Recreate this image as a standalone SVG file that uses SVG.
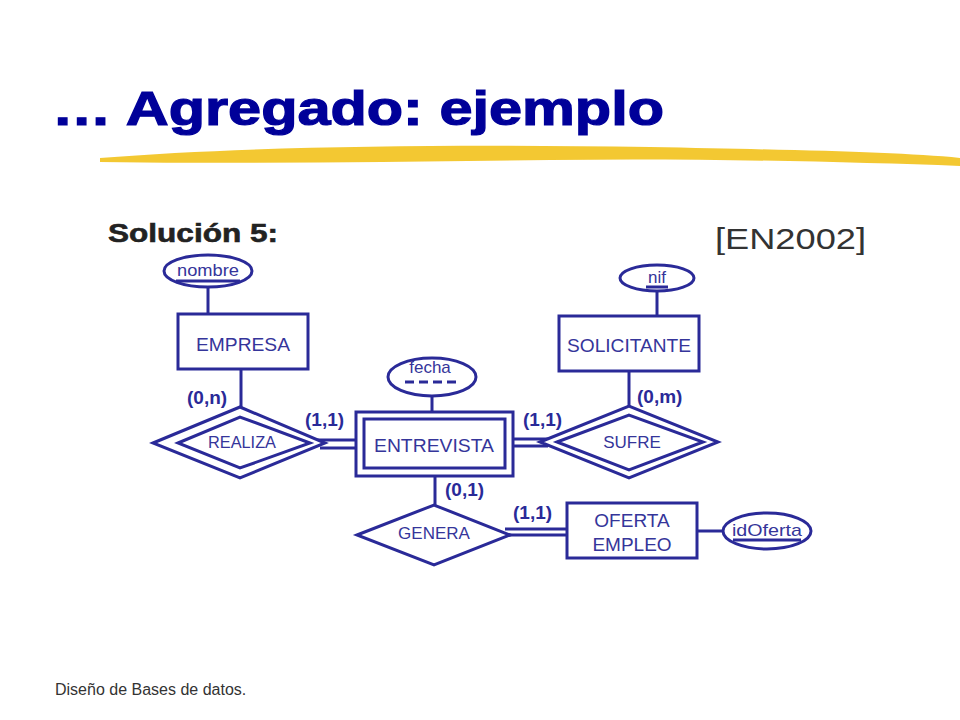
<svg xmlns="http://www.w3.org/2000/svg" width="960" height="720" viewBox="0 0 960 720">
<style>
.s{fill:none;stroke:#2a2a98;stroke-width:3}
.w{fill:#fff;stroke:#2a2a98;stroke-width:3}
.t{font-family:"Liberation Sans",Arial,sans-serif;fill:#35359a;font-size:19px;text-anchor:middle}
.a{font-family:"Liberation Sans",Arial,sans-serif;fill:#35359a;font-size:17px;text-anchor:middle}
.c{font-family:"Liberation Sans",Arial,sans-serif;fill:#2a2a98;font-size:19px;font-weight:bold}
</style>
<rect width="960" height="720" fill="#fff"/>
<text x="52" y="125" font-family="Liberation Sans,Arial,sans-serif" font-size="48" font-weight="bold" fill="#000099" textLength="612" lengthAdjust="spacingAndGlyphs" stroke="#000099" stroke-width="1.2">… Agregado: ejemplo</text>
<path d="M100,158 C250,146 450,144 650,147 C800,150 900,152 960,158 L960,166 C850,162 700,158 550,160 C400,162 250,164 100,162 Z" fill="#f2c21c" opacity="0.9"/>
<text x="108" y="242" font-family="Liberation Sans,Arial,sans-serif" font-size="26" font-weight="bold" fill="#222" textLength="170" lengthAdjust="spacingAndGlyphs" stroke="#222" stroke-width="0.6">Solución 5:</text>
<text x="715" y="249" font-family="Liberation Sans,Arial,sans-serif" font-size="30" fill="#333" textLength="151" lengthAdjust="spacingAndGlyphs">[EN2002]</text>
<text x="55" y="695" font-family="Liberation Sans,Arial,sans-serif" font-size="16" fill="#333">Diseño de Bases de datos.</text>
<g id="connectors">
<line class="s" x1="208" y1="287" x2="208" y2="314"/>
<line class="s" x1="241" y1="369" x2="241" y2="407"/>
<line class="s" x1="432" y1="396" x2="432" y2="412"/>
<line class="s" x1="312" y1="440" x2="356" y2="440"/>
<line class="s" x1="320" y1="448" x2="356" y2="448"/>
<line class="s" x1="513" y1="439" x2="548" y2="439"/>
<line class="s" x1="513" y1="446" x2="548" y2="446"/>
<line class="s" x1="629" y1="371" x2="629" y2="406"/>
<line class="s" x1="657" y1="291" x2="657" y2="316"/>
<line class="s" x1="435" y1="476" x2="435" y2="505"/>
<line class="s" x1="505" y1="529" x2="567" y2="529"/>
<line class="s" x1="505" y1="535" x2="567" y2="535"/>
<line class="s" x1="697" y1="531" x2="723" y2="531"/>
<text class="c" x="187" y="404">(0,n)</text>
<text class="c" x="305" y="426">(1,1)</text>
<text class="c" x="523" y="426">(1,1)</text>
<text class="c" x="637" y="403">(0,m)</text>
<text class="c" x="445" y="496">(0,1)</text>
<text class="c" x="513" y="519">(1,1)</text>
</g>
<g id="nombre"><ellipse class="w" cx="208" cy="271" rx="44" ry="16"/><text class="a" x="208" y="276" textLength="62" lengthAdjust="spacingAndGlyphs">nombre</text><line class="s" x1="176" y1="281" x2="240" y2="281" stroke-width="2"/></g>
<g id="empresa"><rect class="w" x="178" y="314" width="130" height="55"/><text class="t" x="243" y="351" textLength="94" lengthAdjust="spacingAndGlyphs">EMPRESA</text></g>
<g id="realiza"><polygon class="w" points="153,443 240,407 325,443 240,478"/><polygon class="s" points="178,443 240,417 310,443 240,468"/><text class="a" x="242" y="448" font-size="15" textLength="68" lengthAdjust="spacingAndGlyphs">REALIZA</text></g>
<g id="fecha"><ellipse class="w" cx="432" cy="377" rx="44" ry="19"/><text class="a" x="430" y="373">fecha</text><line class="s" x1="405" y1="382" x2="459" y2="382" stroke-dasharray="9,5"/></g>
<g id="entrevista"><rect class="w" x="356" y="412" width="157" height="64"/><rect class="s" x="364" y="419" width="141" height="49"/><text class="t" x="434" y="452" font-size="21" textLength="120" lengthAdjust="spacingAndGlyphs">ENTREVISTA</text></g>
<g id="nif"><ellipse class="w" cx="657" cy="278" rx="37" ry="13"/><text class="a" x="657" y="283">nif</text><line class="s" x1="646" y1="287" x2="668" y2="287" stroke-width="2"/></g>
<g id="solicitante"><rect class="w" x="559" y="316" width="140" height="55"/><text class="t" x="629" y="352" textLength="124" lengthAdjust="spacingAndGlyphs">SOLICITANTE</text></g>
<g id="sufre"><polygon class="w" points="540,442 629,406 718,442 629,478"/><polygon class="s" points="557,442 629,415 703,442 629,470"/><text class="a" x="632" y="448" font-size="15">SUFRE</text></g>
<g id="genera"><polygon class="w" points="357,535 434,505 510,535 434,565"/><text class="a" x="434" y="539" font-size="15">GENERA</text></g>
<g id="oferta"><rect class="w" x="567" y="503" width="130" height="55"/><text class="t" x="632" y="527">OFERTA</text><text class="t" x="632" y="551">EMPLEO</text></g>
<g id="idoferta"><ellipse class="w" cx="767" cy="531" rx="44" ry="18"/><text class="a" x="767" y="536" textLength="70" lengthAdjust="spacingAndGlyphs">idOferta</text><line class="s" x1="733" y1="540" x2="801" y2="540" stroke-width="2"/></g>
</svg>
